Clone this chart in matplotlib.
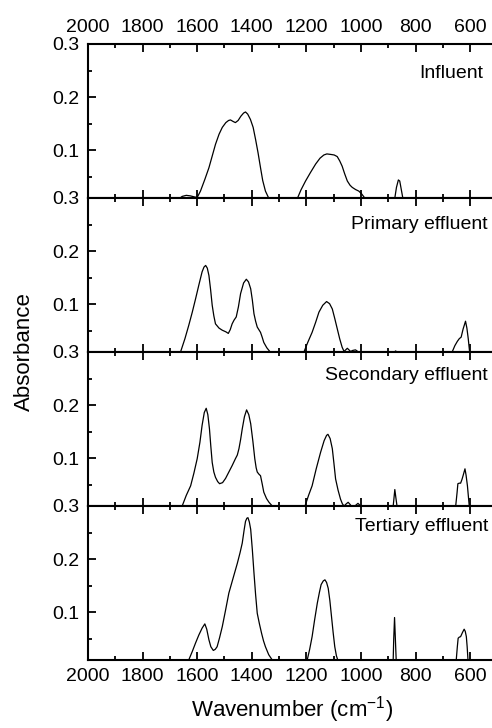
import matplotlib
matplotlib.use("Agg")
import matplotlib.pyplot as plt
from matplotlib.ticker import MultipleLocator

plt.rcParams['font.family'] = ['Liberation Sans', 'DejaVu Sans']
plt.rcParams['mathtext.fontset'] = 'custom'
plt.rcParams['mathtext.rm'] = 'Liberation Sans'

# FTIR spectra (wavenumber in cm^-1, absorbance)
influent_wn = [1700, 1668, 1655, 1640, 1625, 1610, 1600, 1595, 1588, 1572, 1557, 1545, 1533, 1520,
               1508, 1495, 1485, 1478, 1468, 1460, 1450, 1440, 1430, 1423, 1415, 1405, 1395, 1386,
               1377, 1368, 1360, 1350, 1340, 1330, 1250, 1234, 1220, 1203, 1185, 1166, 1150, 1136,
               1125, 1110, 1098, 1087, 1078, 1069, 1060, 1050, 1040, 1032, 1020, 1008, 998, 989,
               980, 900, 880, 876, 870, 863, 858, 852, 846, 840, 500]
influent_abs = [-0.01, 0.008, 0.013, 0.015, 0.014, 0.012, 0.011, 0.016, 0.023, 0.045, 0.067, 0.089,
                0.111, 0.130, 0.143, 0.152, 0.156, 0.157, 0.154, 0.152, 0.156, 0.164, 0.170, 0.172,
                0.168, 0.158, 0.143, 0.120, 0.095, 0.067, 0.043, 0.023, 0.012, 0.0, -0.01, 0.008,
                0.025, 0.042, 0.058, 0.074, 0.085, 0.091, 0.093, 0.092, 0.091, 0.088, 0.080, 0.070,
                0.056, 0.042, 0.034, 0.030, 0.026, 0.023, 0.018, 0.012, 0.0, -0.01, 0.0, 0.010,
                0.030, 0.044, 0.042, 0.025, 0.008, 0.0, -0.01]

primary_wn = [1690, 1661, 1645, 1631, 1618, 1606, 1594, 1582, 1575, 1569, 1563, 1557, 1551, 1545,
              1539, 1533, 1520, 1508, 1495, 1486, 1479, 1472, 1465, 1457, 1449, 1441, 1430, 1420,
              1412, 1404, 1398, 1392, 1386, 1380, 1374, 1368, 1362, 1356, 1345, 1331, 1320, 1230,
              1209, 1195, 1179, 1166, 1154, 1140, 1126, 1115, 1105, 1096, 1087, 1078, 1069, 1062,
              1056, 1050, 1044, 1038, 1030, 1020, 1012, 1008, 1000, 880, 873, 866, 860, 680, 666,
              656, 647, 640, 633, 626, 620, 617, 612, 607, 602, 595, 500]
primary_abs = [-0.01, 0.010, 0.035, 0.060, 0.085, 0.110, 0.136, 0.161, 0.170, 0.173, 0.168, 0.154,
               0.128, 0.098, 0.078, 0.063, 0.055, 0.051, 0.048, 0.045, 0.052, 0.063, 0.070, 0.076,
               0.095, 0.120, 0.140, 0.147, 0.142, 0.129, 0.108, 0.082, 0.068, 0.057, 0.052, 0.047,
               0.038, 0.028, 0.018, 0.009, 0.0, -0.01, 0.010, 0.028, 0.047, 0.066, 0.085, 0.098,
               0.105, 0.101, 0.091, 0.073, 0.054, 0.035, 0.019, 0.011, 0.014, 0.017, 0.014, 0.011,
               0.013, 0.014, 0.011, 0.008, 0.0, 0.009, 0.012, 0.009, 0.0, -0.01, 0.010, 0.022,
               0.030, 0.035, 0.038, 0.053, 0.063, 0.068, 0.055, 0.035, 0.010, 0.0, -0.01]

secondary_wn = [1690, 1655, 1640, 1624, 1612, 1600, 1590, 1582, 1574, 1567, 1561, 1555, 1550, 1545,
                1539, 1533, 1525, 1518, 1507, 1496, 1484, 1472, 1460, 1453, 1447, 1441, 1435, 1427,
                1419, 1411, 1404, 1396, 1389, 1384, 1380, 1374, 1368, 1362, 1356, 1346, 1337, 1325,
                1315, 1225, 1205, 1192, 1179, 1164, 1148, 1135, 1126, 1121, 1113, 1105, 1099, 1093,
                1084, 1075, 1068, 1062, 1054, 1047, 1040, 1034, 1020, 1011, 1005, 1000, 900, 884,
                880, 876, 872, 868, 862, 670, 653, 648, 645, 640, 635, 630, 626, 619, 615, 610, 606,
                603, 598, 500]
secondary_abs = [-0.01, 0.010, 0.030, 0.048, 0.072, 0.099, 0.130, 0.162, 0.186, 0.194, 0.182, 0.155,
                 0.122, 0.092, 0.074, 0.064, 0.056, 0.052, 0.054, 0.062, 0.074, 0.086, 0.099, 0.106,
                 0.118, 0.135, 0.155, 0.178, 0.191, 0.182, 0.165, 0.132, 0.099, 0.082, 0.074, 0.070,
                 0.067, 0.052, 0.036, 0.024, 0.017, 0.010, 0.0, -0.01, 0.010, 0.030, 0.048, 0.080,
                 0.111, 0.133, 0.143, 0.145, 0.137, 0.118, 0.090, 0.061, 0.040, 0.023, 0.014, 0.010,
                 0.014, 0.017, 0.013, 0.009, 0.011, 0.015, 0.012, 0.0, -0.01, 0.0, 0.020, 0.041,
                 0.025, 0.010, 0.0, -0.01, 0.010, 0.035, 0.052, 0.053, 0.053, 0.060, 0.067, 0.080,
                 0.068, 0.048, 0.025, 0.008, 0.0, -0.01]

tertiary_wn = [1680, 1631, 1618, 1606, 1594, 1582, 1572, 1565, 1557, 1550, 1541, 1534, 1527, 1518,
               1508, 1496, 1484, 1468, 1453, 1443, 1435, 1428, 1423, 1418, 1414, 1409, 1404, 1398,
               1392, 1386, 1380, 1372, 1364, 1357, 1350, 1338, 1325, 1315, 1215, 1197, 1188, 1179,
               1170, 1160, 1152, 1146, 1138, 1132, 1126, 1120, 1114, 1108, 1102, 1096, 1090, 1085,
               1075, 900, 884, 882, 880, 877, 874, 871, 868, 670, 651, 647, 644, 640, 635, 628, 622,
               618, 614, 611, 608, 603, 500]
tertiary_abs = [-0.01, 0.010, 0.026, 0.042, 0.057, 0.070, 0.078, 0.068, 0.048, 0.035, 0.028, 0.030,
                0.035, 0.052, 0.073, 0.104, 0.136, 0.165, 0.192, 0.212, 0.230, 0.255, 0.271, 0.277,
                0.278, 0.270, 0.256, 0.218, 0.174, 0.133, 0.098, 0.078, 0.060, 0.046, 0.035, 0.020,
                0.010, 0.0, -0.01, 0.010, 0.030, 0.054, 0.085, 0.117, 0.138, 0.152, 0.159, 0.161,
                0.156, 0.145, 0.122, 0.092, 0.062, 0.035, 0.018, 0.010, 0.0, -0.01, 0.0, 0.010,
                0.050, 0.090, 0.050, 0.010, 0.0, -0.01, 0.010, 0.035, 0.051, 0.053, 0.054, 0.062,
                0.068, 0.064, 0.054, 0.035, 0.010, 0.0, -0.01]

panel_names = ["Influent", "Primary effluent", "Secondary effluent", "Tertiary effluent"]
x_ticks = [2000, 1800, 1600, 1400, 1200, 1000, 800, 600]
y_ticks = [0.1, 0.2, 0.3]

spectra = [(influent_wn, influent_abs), (primary_wn, primary_abs),
           (secondary_wn, secondary_abs), (tertiary_wn, tertiary_abs)]
label_pos = [(0.978, 0.81), (0.99, 0.83), (0.99, 0.85), (0.99, 0.87)]

W, H = 492, 728
fig = plt.figure(figsize=(W / 100, H / 100), dpi=100)

left, right = 88 / W, 1.0
top_px, bot_px = 44, 660
ph = (bot_px - top_px) / 4

FS = 14
FS_LABEL = 16
for i, ((wn, ab), name) in enumerate(zip(spectra, panel_names)):
    y0 = 1 - (top_px + (i + 1) * ph) / H
    ax = fig.add_axes([left, y0, right - left, ph / H])
    ax.plot(wn, ab, color='black', lw=0.9)
    ax.set_xlim(2000, 520)
    ax.set_ylim(0.01, 0.3)
    ax.set_xticks(x_ticks)
    ax.xaxis.set_minor_locator(MultipleLocator(100))
    ax.set_yticks(y_ticks)
    ax.set_yticklabels([f"{v:.1f}" for v in y_ticks])
    ax.yaxis.set_minor_locator(MultipleLocator(0.05))
    ax.tick_params(axis='both', which='both', direction='in', top=True, bottom=True,
                   left=True, right=False, width=1.3, labelsize=FS, pad=6)
    ax.tick_params(which='major', length=5.5)
    ax.tick_params(which='minor', length=3)
    ax.tick_params(axis='x', labeltop=(i == 0), labelbottom=(i == 3))
    for s in ['left', 'top', 'bottom']:
        ax.spines[s].set_linewidth(1.5)
    ax.spines['right'].set_visible(False)
    lx, ly = label_pos[i]
    ax.text(lx, ly, name, transform=ax.transAxes, ha='right', va='center', fontsize=FS)

fig.text(0.05, 1 - (top_px + bot_px) / 2 / H, "Absorbance", rotation=90,
         ha='center', va='center', fontsize=FS_LABEL)
fig.text(0.593, 1 - 710 / H, r"Wavenumber (cm$^{-1}$)", ha='center', va='center',
         fontsize=FS_LABEL)

fig.savefig("out.png", dpi=100)
